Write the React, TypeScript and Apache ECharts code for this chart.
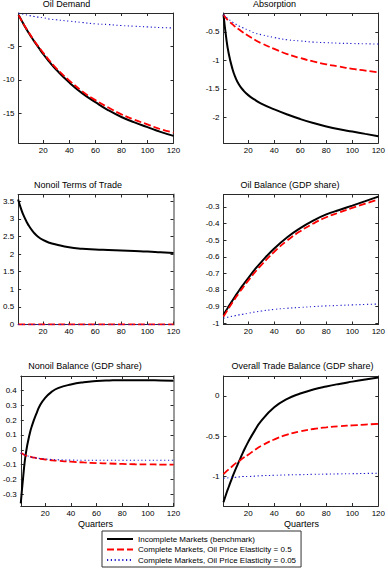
import React, { useEffect, useRef } from "react";
import * as echarts from "echarts";

const quarters = [1, 3, 5, 8, 10, 13, 16, 20, 25, 30, 40, 50, 60, 70, 80, 90, 100, 110, 120];
const xTicks = [20, 40, 60, 80, 100, 120];

const seriesNames = [
  "Incomplete Markets (benchmark)",
  "Complete Markets, Oil Price Elasticity = 0.5",
  "Complete Markets, Oil Price Elasticity = 0.05",
];

// Oil Demand
const oilDemandIncomplete = [-0.4, -1.1, -1.8, -2.8, -3.4, -4.3, -5.1, -6.2, -7.4, -8.5, -10.4, -12.0, -13.3, -14.5, -15.5, -16.3, -17.0, -17.7, -18.3];
const oilDemandComplete05 = [-0.4, -1.1, -1.8, -2.7, -3.3, -4.2, -5.0, -6.0, -7.2, -8.3, -10.1, -11.7, -13.0, -14.1, -15.1, -15.9, -16.6, -17.3, -17.8];
const oilDemandComplete005 = [-0.1, -0.2, -0.3, -0.4, -0.5, -0.6, -0.7, -0.8, -1.0, -1.1, -1.3, -1.5, -1.7, -1.8, -1.95, -2.05, -2.15, -2.25, -2.3];
const oilDemandTicks = [-15, -10, -5];

// Absorption
const absorptionIncomplete = [-0.2, -0.59, -0.88, -1.16, -1.29, -1.43, -1.52, -1.61, -1.69, -1.76, -1.86, -1.95, -2.03, -2.1, -2.16, -2.21, -2.25, -2.29, -2.33];
const absorptionComplete05 = [-0.2, -0.26, -0.31, -0.37, -0.41, -0.46, -0.51, -0.57, -0.64, -0.7, -0.8, -0.89, -0.96, -1.02, -1.07, -1.11, -1.15, -1.18, -1.21];
const absorptionComplete005 = [-0.2, -0.24, -0.28, -0.33, -0.36, -0.4, -0.43, -0.47, -0.52, -0.55, -0.6, -0.64, -0.66, -0.68, -0.69, -0.7, -0.705, -0.71, -0.715];
const absorptionTicks = [-2, -1.5, -1, -0.5];

// Nonoil Terms of Trade
const totIncomplete = [3.55, 3.31, 3.11, 2.88, 2.76, 2.61, 2.5, 2.4, 2.32, 2.27, 2.19, 2.15, 2.13, 2.115, 2.1, 2.085, 2.07, 2.05, 2.03];
const totComplete05 = [0, 0, 0, 0, 0, 0, 0, 0, 0, 0, 0, 0, 0, 0, 0, 0, 0, 0, 0];
const totComplete005 = [0, 0, 0, 0, 0, 0, 0, 0, 0, 0, 0, 0, 0, 0, 0, 0, 0, 0, 0];
const totTicks = [0, 0.5, 1, 1.5, 2, 2.5, 3, 3.5];

// Oil Balance (GDP share)
const oilBalIncomplete = [-0.95, -0.924, -0.899, -0.862, -0.838, -0.803, -0.77, -0.728, -0.678, -0.632, -0.55, -0.482, -0.427, -0.382, -0.345, -0.318, -0.292, -0.265, -0.238];
const oilBalComplete05 = [-0.96, -0.935, -0.91, -0.874, -0.851, -0.817, -0.785, -0.744, -0.695, -0.65, -0.57, -0.502, -0.446, -0.4, -0.362, -0.333, -0.306, -0.28, -0.255];
const oilBalComplete005 = [-0.97, -0.967, -0.963, -0.958, -0.955, -0.95, -0.946, -0.94, -0.933, -0.927, -0.917, -0.91, -0.905, -0.9, -0.896, -0.893, -0.89, -0.887, -0.885];
const oilBalTicks = [-1, -0.9, -0.8, -0.7, -0.6, -0.5, -0.4, -0.3];

// Nonoil Balance (GDP share)
const nonoilBalIncomplete = [-0.36, -0.17, -0.02, 0.11, 0.17, 0.24, 0.3, 0.35, 0.39, 0.415, 0.44, 0.455, 0.463, 0.467, 0.469, 0.469, 0.468, 0.467, 0.465];
const nonoilBalComplete05 = [-0.02, -0.03, -0.038, -0.045, -0.05, -0.055, -0.06, -0.065, -0.07, -0.074, -0.08, -0.085, -0.089, -0.092, -0.095, -0.097, -0.098, -0.099, -0.1];
const nonoilBalComplete005 = [-0.02, -0.03, -0.038, -0.045, -0.05, -0.055, -0.058, -0.062, -0.065, -0.067, -0.069, -0.07, -0.07, -0.07, -0.07, -0.07, -0.07, -0.07, -0.07];
const nonoilBalTicks = [-0.3, -0.2, -0.1, 0, 0.1, 0.2, 0.3, 0.4];

// Overall Trade Balance (GDP share)
const tradeBalIncomplete = [-1.32, -1.22, -1.13, -1.0, -0.92, -0.81, -0.7, -0.57, -0.43, -0.31, -0.14, -0.035, 0.03, 0.08, 0.118, 0.15, 0.178, 0.205, 0.23];
const tradeBalComplete05 = [-0.97, -0.94, -0.91, -0.87, -0.84, -0.81, -0.77, -0.73, -0.67, -0.62, -0.54, -0.48, -0.44, -0.41, -0.39, -0.375, -0.365, -0.355, -0.345];
const tradeBalComplete005 = [-1.02, -1.02, -1.015, -1.01, -1.01, -1.005, -1.0, -1.0, -0.995, -0.99, -0.985, -0.98, -0.977, -0.973, -0.97, -0.967, -0.965, -0.962, -0.96];
const tradeBalTicks = [-1, -0.5, 0];

const FONT = "'Liberation Sans', Arial, Helvetica, sans-serif";
const AXIS_COLOR = "#2a2a2a";

const panels = [
  { title: "Oil Demand", tx: 66.5, ty: 3.9, left: 17.5, top: 13, yMin: -19.35, yMax: -0.09, ticks: oilDemandTicks, data: [oilDemandIncomplete, oilDemandComplete05, oilDemandComplete005], gray: false },
  { title: "Absorption", tx: 274.5, ty: 3.9, left: 223.5, top: 13, yMin: -2.45, yMax: -0.17, ticks: absorptionTicks, data: [absorptionIncomplete, absorptionComplete05, absorptionComplete005], gray: false },
  { title: "Nonoil Terms of Trade", tx: 78, ty: 184.5, left: 17.5, top: 194.5, yMin: 0, yMax: 3.69, ticks: totTicks, data: [totIncomplete, totComplete05, totComplete005], gray: true },
  { title: "Oil Balance (GDP share)", tx: 290, ty: 184.5, left: 223.5, top: 194.5, yMin: -1.008, yMax: -0.225, ticks: oilBalTicks, data: [oilBalIncomplete, oilBalComplete05, oilBalComplete005], gray: false },
  { title: "Nonoil Balance (GDP share)", tx: 85, ty: 366, left: 17.5, top: 376, yMin: -0.378, yMax: 0.497, ticks: nonoilBalTicks, data: [nonoilBalIncomplete, nonoilBalComplete05, nonoilBalComplete005], gray: true },
  { title: "Overall Trade Balance (GDP share)", tx: 302.5, ty: 366, left: 223.5, top: 376, yMin: -1.366, yMax: 0.248, ticks: tradeBalTicks, data: [tradeBalIncomplete, tradeBalComplete05, tradeBalComplete005], gray: false },
];

const lineStyles = [
  { color: "#000000", width: 2, type: "solid" },
  { color: "#ff0000", width: 1.8, type: [7, 3] },
  { color: "#1a1acc", width: 1.1, type: [1.2, 2.6] },
];

export default function App() {
  const ref = useRef<HTMLDivElement>(null);

  useEffect(() => {
    document.body.style.margin = "0";
    if (!ref.current) return;
    const chart = echarts.init(ref.current, null, { renderer: "svg" });

    const grids: any[] = [];
    const xAxes: any[] = [];
    const yAxes: any[] = [];
    const series: any[] = [];
    const graphics: any[] = [];

    panels.forEach((p, i) => {
      grids.push({ left: p.left, top: p.top, width: 156, height: 130, containLabel: false });
      const baseX = {
        gridIndex: i,
        type: "value",
        min: 1,
        max: 120,
        splitLine: { show: false },
        axisLine: { show: true, onZero: false, lineStyle: { color: AXIS_COLOR, width: 1 } },
        axisTick: { show: true, inside: true, length: 3, customValues: xTicks, lineStyle: { color: AXIS_COLOR } },
      };
      xAxes.push({
        ...baseX,
        position: "bottom",
        axisLabel: { show: true, customValues: xTicks, fontSize: 8, margin: 3, color: "#000", fontFamily: FONT },
      });
      xAxes.push({ ...baseX, position: "top", axisLabel: { show: false } });
      const baseY = {
        gridIndex: i,
        type: "value",
        min: p.yMin,
        max: p.yMax,
        splitLine: { show: false },
        axisTick: { show: true, inside: true, length: 3, customValues: p.ticks, lineStyle: { color: AXIS_COLOR } },
      };
      yAxes.push({
        ...baseY,
        position: "left",
        axisLine: { show: true, onZero: false, lineStyle: { color: AXIS_COLOR, width: 1 } },
        axisLabel: { show: true, customValues: p.ticks, fontSize: 8, margin: 4, color: "#000", fontFamily: FONT },
      });
      yAxes.push({
        ...baseY,
        position: "right",
        axisLine: { show: true, onZero: false, lineStyle: { color: p.gray ? "#9a9a9a" : AXIS_COLOR, width: p.gray ? 2 : 1 } },
        axisLabel: { show: false },
      });

      p.data.forEach((arr, k) => {
        series.push({
          type: "line",
          name: seriesNames[k],
          xAxisIndex: 2 * i,
          yAxisIndex: 2 * i,
          data: quarters.map((q, j) => [q, arr[j]]),
          symbol: "none",
          smooth: 0.5,
          lineStyle: lineStyles[k],
          itemStyle: { color: lineStyles[k].color },
          z: 3 + k,
        });
      });

      graphics.push({
        type: "text",
        x: p.tx,
        y: p.ty,
        style: { text: p.title, fontSize: 9, fill: "#000", align: "center", verticalAlign: "middle", fontFamily: FONT },
      });
    });

    graphics.push({
      type: "text",
      x: 95.5,
      y: 523.5,
      style: { text: "Quarters", fontSize: 9, fill: "#000", align: "center", verticalAlign: "middle", fontFamily: FONT },
    });
    graphics.push({
      type: "text",
      x: 301.5,
      y: 523.5,
      style: { text: "Quarters", fontSize: 9, fill: "#000", align: "center", verticalAlign: "middle", fontFamily: FONT },
    });

    chart.setOption({
      animation: false,
      backgroundColor: "#ffffff",
      grid: grids,
      xAxis: xAxes,
      yAxis: yAxes,
      series,
      graphic: graphics,
      legend: {
        data: seriesNames,
        orient: "vertical",
        left: 102,
        top: 531,
        itemWidth: 26,
        itemHeight: 10,
        itemGap: 2.5,
        padding: [4, 5, 3, 4],
        borderColor: "#333",
        borderWidth: 1,
        backgroundColor: "#fff",
        selectedMode: false,
        itemStyle: { opacity: 0 },
        textStyle: { fontSize: 8, color: "#000", fontFamily: FONT },
      },
    });

    return () => {
      chart.dispose();
    };
  }, []);

  return <div ref={ref} style={{ width: 388, height: 573 }} />;
}
